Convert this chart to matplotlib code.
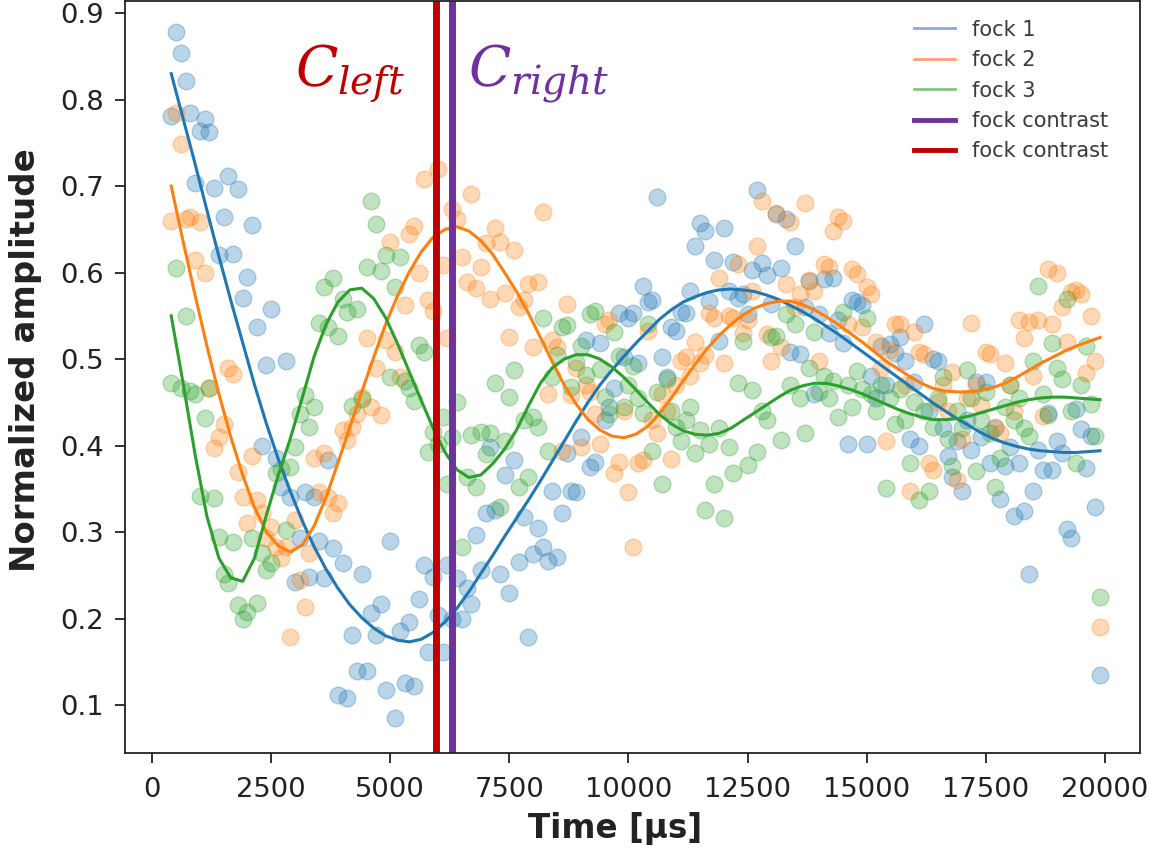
import numpy as np
import matplotlib.pyplot as plt
from matplotlib.lines import Line2D

t = np.arange(400, 20000, 100)

fock1 = [.781, .878, .854, .822, .784, .704, .764, .778, .762, .698,
         .620, .664, .712, .622, .697, .571, .595, .655, .537, .400,
         .493, .558, .386, .352, .498, .340, .242, .293, .346, .248,
         .340, .290, .247, .383, .282, .112, .264, .108, .181, .139,
         .252, .139, .206, .181, .217, .117, .290, .085, .185, .126,
         .196, .122, .222, .262, .161, .248, .204, .161, .262, .200,
         .247, .200, .235, .217, .296, .256, .322, .398, .325, .252,
         .366, .230, .383, .265, .317, .179, .275, .305, .283, .267,
         .348, .271, .322, .391, .348, .346, .410, .522, .375, .381,
         .519, .430, .445, .467, .553, .502, .548, .553, .495, .585,
         .566, .568, .687, .502, .479, .537, .533, .554, .553, .579,
         .631, .657, .648, .567, .614, .521, .651, .579, .612, .571,
         .575, .552, .603, .695, .611, .597, .564, .668, .605, .662,
         .508, .631, .506, .560, .590, .460, .552, .593, .530, .594,
         .545, .518, .402, .568, .566, .563, .402, .480, .455, .515,
         .470, .517, .507, .526, .498, .407, .473, .399, .541, .440,
         .500, .498, .420, .388, .364, .405, .348, .430, .395, .473,
         .410, .473, .380, .420, .338, .376, .398, .319, .380, .324,
         .252, .348, .395, .372, .438, .372, .405, .391, .303, .293,
         .442, .419, .374, .411, .329, .135]

fock2 = [.660, .785, .749, .662, .664, .614, .658, .600, .467, .397,
         .410, .425, .490, .483, .369, .340, .310, .388, .337, .322,
         .293, .306, .283, .270, .283, .179, .314, .244, .213, .276,
         .386, .346, .391, .340, .322, .333, .418, .406, .421, .437,
         .456, .524, .444, .490, .435, .522, .635, .508, .479, .562,
         .645, .654, .599, .708, .568, .556, .720, .609, .524, .674,
         .662, .618, .589, .691, .582, .607, .634, .570, .652, .635,
         .576, .525, .626, .560, .568, .587, .514, .589, .670, .460,
         .522, .514, .394, .564, .458, .490, .398, .470, .462, .437,
         .402, .541, .545, .368, .381, .440, .346, .283, .380, .383,
         .533, .430, .415, .460, .440, .385, .470, .498, .502, .480,
         .520, .495, .505, .553, .548, .594, .495, .550, .548, .610,
         .530, .545, .579, .631, .683, .529, .498, .669, .514, .587,
         .658, .560, .575, .680, .591, .579, .498, .610, .606, .648,
         .664, .660, .540, .604, .598, .537, .583, .575, .520, .490,
         .405, .510, .541, .540, .470, .348, .531, .508, .506, .380,
         .372, .450, .470, .440, .485, .360, .407, .455, .542, .470,
         .447, .508, .506, .422, .414, .495, .470, .440, .545, .524,
         .543, .480, .545, .434, .604, .541, .600, .560, .520, .577,
         .580, .575, .484, .550, .498, .190]

fock3 = [.472, .605, .466, .550, .463, .460, .342, .432, .467, .339,
         .294, .252, .241, .288, .216, .199, .208, .293, .218, .276,
         .256, .264, .368, .373, .302, .375, .398, .437, .458, .421,
         .444, .542, .583, .537, .594, .527, .570, .554, .446, .558,
         .454, .606, .683, .656, .602, .620, .479, .583, .618, .475,
         .467, .452, .516, .508, .393, .416, .402, .433, .356, .410,
         .450, .283, .364, .412, .352, .416, .390, .414, .472, .329,
         .405, .456, .487, .352, .430, .364, .433, .421, .548, .394,
         .479, .505, .537, .539, .468, .497, .515, .481, .552, .556,
         .489, .456, .437, .531, .503, .445, .470, .492, .455, .438,
         .541, .394, .462, .356, .477, .440, .421, .405, .430, .445,
         .391, .418, .325, .402, .356, .420, .316, .398, .368, .472,
         .521, .377, .464, .392, .440, .429, .525, .527, .406, .552,
         .470, .541, .455, .414, .490, .531, .462, .480, .455, .475,
         .433, .554, .470, .445, .486, .465, .548, .460, .440, .470,
         .351, .455, .425, .465, .430, .380, .450, .337, .440, .348,
         .422, .455, .479, .408, .376, .440, .420, .487, .455, .371,
         .430, .462, .415, .352, .386, .445, .470, .430, .455, .420,
         .411, .498, .585, .460, .435, .518, .490, .477, .570, .440,
         .380, .470, .515, .448, .411, .225]

# fitted curves, read every 250 us
t_fit = np.arange(400, 19901, 250)

fit1 = [.830, .778, .726, .672, .619, .568, .519, .470, .425, .384,
        .347, .313, .283, .257, .235, .216, .201, .189, .180, .175,
        .173, .176, .184, .196, .212, .231, .252, .273, .295, .316,
        .337, .359, .382, .405, .428, .450, .470, .487, .503, .518,
        .532, .546, .557, .566, .572, .577, .580, .581, .580, .578,
        .574, .569, .562, .555, .547, .538, .529, .519, .509, .499,
        .489, .479, .469, .459, .449, .440, .431, .423, .415, .408,
        .403, .399, .396, .394, .393, .392, .392, .393, .394]

fit2 = [.700, .636, .574, .515, .460, .410, .366, .328, .300, .284,
        .277, .285, .307, .340, .380, .421, .462, .502, .540, .573,
        .601, .624, .641, .650, .653, .648, .637, .621, .600, .578,
        .553, .525, .497, .470, .448, .430, .418, .411, .409, .413,
        .422, .437, .455, .475, .494, .512, .527, .540, .551, .559,
        .564, .567, .567, .563, .557, .549, .540, .530, .520, .509,
        .498, .489, .480, .472, .466, .463, .462, .462, .464, .467,
        .472, .479, .487, .495, .502, .509, .515, .520, .525]

fit3 = [.550, .472, .390, .318, .270, .247, .243, .270, .320, .366,
        .408, .455, .503, .540, .566, .580, .582, .570, .548, .518,
        .485, .452, .420, .392, .372, .363, .366, .379, .396, .418,
        .446, .472, .490, .500, .505, .505, .500, .491, .479, .465,
        .450, .436, .425, .417, .413, .412, .414, .420, .429, .438,
        .447, .456, .464, .469, .472, .472, .469, .465, .460, .454,
        .448, .442, .437, .433, .430, .430, .431, .434, .438, .442,
        .446, .450, .453, .455, .456, .456, .455, .454, .453]

c_left = 5960
c_right = 6290

plt.rcParams['mathtext.fontset'] = 'dejavuserif'

fig = plt.figure(figsize=(11.49, 8.55), dpi=100)
ax = fig.add_axes([0.1088, 0.1193, 0.8834, 0.8795])

ax.scatter(t, fock1, s=145, color='C0', alpha=0.3)
ax.scatter(t, fock2, s=145, color='C1', alpha=0.3)
ax.scatter(t, fock3, s=145, color='C2', alpha=0.3)

ax.plot(t_fit, fit1, color='C0', lw=2.2)
ax.plot(t_fit, fit2, color='C1', lw=2.2)
ax.plot(t_fit, fit3, color='C2', lw=2.2)

ax.axvline(c_left, color='#c00000', lw=5)
ax.axvline(c_right, color='#7030a0', lw=5)

ax.text(3000, 0.815, r'$C_{left}$', color='#c00000', fontsize=40)
ax.text(6640, 0.815, r'$C_{right}$', color='#7030a0', fontsize=40)

handles = [Line2D([], [], color='#8da5ea', lw=2),
           Line2D([], [], color='#ffa07a', lw=2),
           Line2D([], [], color='#85c285', lw=2),
           Line2D([], [], color='#7030a0', lw=3.5),
           Line2D([], [], color='#c00000', lw=3.5)]
labels = ['fock 1', 'fock 2', 'fock 3', 'fock contrast', 'fock contrast']
leg = ax.legend(handles, labels, loc='upper right', bbox_to_anchor=(0.987, 1.0),
                frameon=False, fontsize=15)
for txt in leg.get_texts():
    txt.set_color('#3a3a3a')

ax.set_xlim(-570, 20740)
ax.set_ylim(0.0445, 0.914)
ax.set_xticks(np.arange(0, 20001, 2500))
ax.set_yticks(np.arange(0.1, 0.91, 0.1))
ax.tick_params(labelsize=19.7, length=7, width=1.3, colors='#222222')
ax.tick_params(axis='x', pad=10)
ax.tick_params(axis='y', pad=8)
for sp in ax.spines.values():
    sp.set_linewidth(1.3)
    sp.set_color('#222222')

ax.set_xlabel('Time [µs]', fontsize=23.5, fontweight='bold', color='#222222')
ax.set_ylabel('Normalized amplitude', fontsize=24.5, fontweight='bold', color='#222222')
ax.xaxis.set_label_coords(0.483, -0.078)
ax.yaxis.set_label_coords(-0.082, 0.522)

fig.savefig('out.png', dpi=100)
plt.close()
